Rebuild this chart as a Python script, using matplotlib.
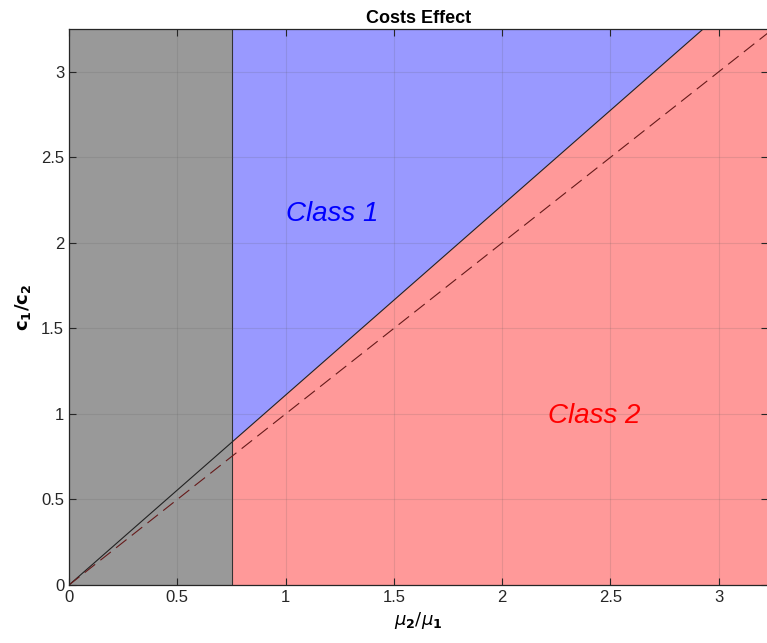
import numpy as np
import matplotlib.pyplot as plt

plt.rcParams['font.family'] = ['Liberation Sans', 'DejaVu Sans']

# region boundaries
mu_ratio = np.array([0.0, 0.753, 3.3])      # x points for the lines
boundary_slope = 1.11                        # solid decision line c1/c2 = k * mu2/mu1
reference_slope = 1.0                        # dashed line
x_cut = 0.753                                # left gray region ends here
x_max, y_max = 3.225, 3.25

xticks = [0, 0.5, 1, 1.5, 2, 2.5, 3]
yticks = [0, 0.5, 1, 1.5, 2, 2.5, 3]

fig = plt.figure(figsize=(7.67, 6.43), dpi=100)
ax = fig.add_axes([69 / 767, 58 / 643, 698.5 / 767, 556 / 643])

xs = np.array([x_cut, mu_ratio[-1]])
solid = boundary_slope * xs
ax.fill_betweenx([0, y_max], 0, x_cut, color='#999999', zorder=1)
ax.fill_between(xs, solid, y_max, color='#9999ff', zorder=1)
ax.fill_between(xs, 0, solid, color='#ff9999', zorder=1)
ax.axvline(x_cut, color='#333333', lw=0.8, zorder=2)

ax.plot(mu_ratio, boundary_slope * mu_ratio, color='#222222', lw=0.8, zorder=3)
ax.plot(mu_ratio, reference_slope * mu_ratio, color='#661a1a', lw=0.8,
        dashes=(12, 6), zorder=3)

ax.text(1.0, 2.17, 'Class 1', color='blue', style='italic', fontsize=20,
        va='center', ha='left')
ax.text(2.21, 0.99, 'Class 2', color='red', style='italic', fontsize=20,
        va='center', ha='left')

ax.set_xlim(0, x_max)
ax.set_ylim(0, y_max)
ax.set_xticks(xticks)
ax.set_yticks(yticks)
ax.set_xticklabels(['0', '0.5', '1', '1.5', '2', '2.5', '3'])
ax.set_yticklabels(['0', '0.5', '1', '1.5', '2', '2.5', '3'])
ax.grid(True, color='#555555', alpha=0.15, lw=0.8, zorder=4)
ax.set_axisbelow(False)
ax.tick_params(direction='in', top=True, right=True, labelsize=12,
               colors='#262626', length=5)
for s in ax.spines.values():
    s.set_color('#262626')
    s.set_linewidth(0.9)
    s.set_zorder(5)

ax.set_title('Costs Effect', fontsize=13, fontweight='bold', pad=4)
ax.set_xlabel(r'$\mu_\mathbf{2}/\mu_\mathbf{1}$', fontsize=13, labelpad=4)
ax.set_ylabel(r'$\mathbf{c_1/c_2}$', fontsize=13, labelpad=6)

fig.savefig('out.png', dpi=100)
